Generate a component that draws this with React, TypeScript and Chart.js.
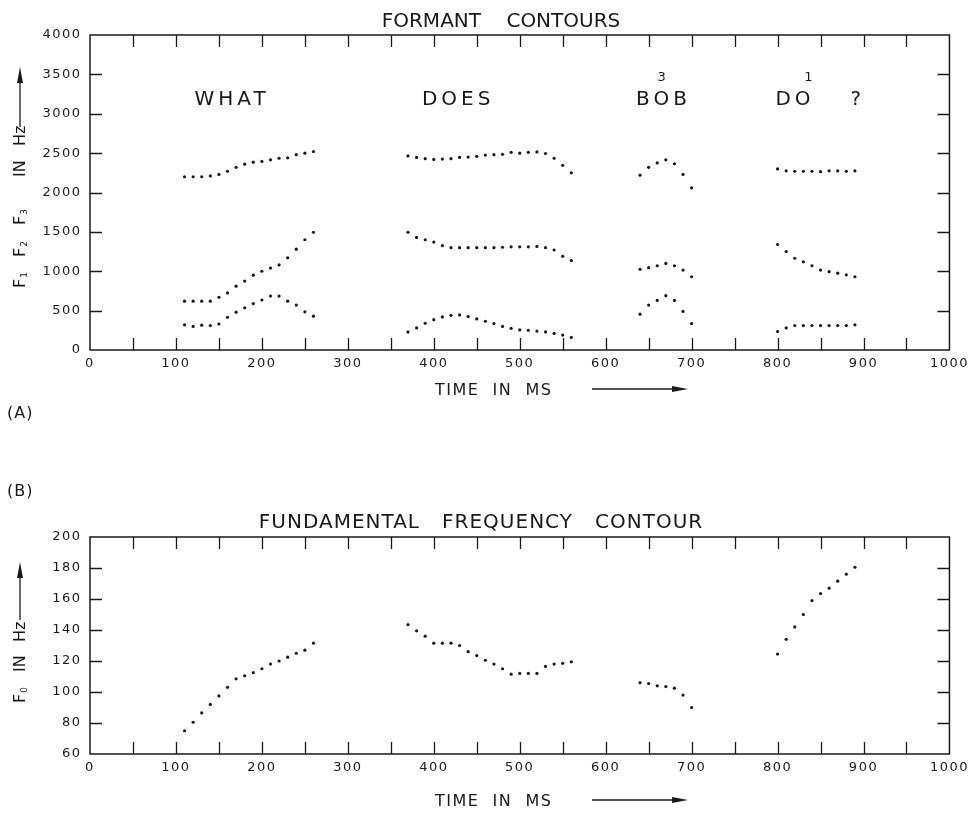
import React, { useEffect, useRef } from 'react';
import { Chart, registerables } from 'chart.js';
Chart.register(...registerables);

const FONT = "'DejaVu Sans', sans-serif";
const INK = '#1a1a1a';

// ---- time axes (ms) ----
const whatTimes = [110, 120, 130, 140, 150, 160, 170, 180, 190, 200, 210, 220, 230, 240, 250, 260];
const doesTimes = [370, 380, 390, 400, 410, 420, 430, 440, 450, 460, 470, 480, 490, 500, 510, 520, 530, 540, 550, 560];
const bobTimes = [640, 650, 660, 670, 680, 690, 700];
const doTimes = [800, 810, 820, 830, 840, 850, 860, 870, 880, 890];

// ---- formants (Hz) ----
const whatF1 = [320, 300, 315, 310, 330, 415, 480, 535, 590, 635, 685, 685, 620, 570, 485, 430];
const whatF2 = [620, 620, 620, 620, 670, 725, 810, 875, 950, 1000, 1040, 1080, 1170, 1280, 1400, 1495];
const whatF3 = [2200, 2200, 2200, 2210, 2230, 2270, 2320, 2360, 2385, 2395, 2415, 2435, 2440, 2480, 2500, 2520];

const doesF1 = [230, 280, 340, 385, 420, 440, 445, 425, 395, 365, 335, 300, 275, 255, 250, 240, 230, 210, 190, 160];
const doesF2 = [1495, 1430, 1400, 1370, 1325, 1300, 1300, 1300, 1300, 1300, 1300, 1305, 1310, 1310, 1310, 1315, 1300, 1270, 1190, 1135];
const doesF3 = [2465, 2445, 2430, 2420, 2425, 2430, 2445, 2450, 2460, 2475, 2480, 2485, 2510, 2500, 2510, 2515, 2495, 2435, 2345, 2250];

const bobF1 = [455, 570, 630, 690, 630, 490, 335];
const bobF2 = [1025, 1045, 1070, 1100, 1070, 1015, 930];
const bobF3 = [2220, 2320, 2375, 2415, 2365, 2230, 2060];

const doF1 = [235, 280, 310, 310, 310, 310, 310, 310, 310, 320];
const doF2 = [1340, 1250, 1165, 1120, 1070, 1015, 995, 975, 955, 930];
const doF3 = [2300, 2275, 2270, 2270, 2270, 2265, 2275, 2275, 2270, 2275];

// ---- fundamental frequency (Hz) ----
const whatF0 = [75, 80.5, 86.5, 92, 97.5, 103, 108.5, 110.5, 112.5, 115, 118, 120, 122.5, 125, 127, 131.5];
const doesF0 = [143.5, 139.5, 136, 131.5, 131.5, 131.5, 130, 126, 123.5, 120.5, 118, 115, 111.5, 112, 112, 112, 116.5, 118, 118.5, 119.5];
const bobF0 = [106, 105.5, 104, 103.5, 102.5, 98, 90];
const doF0 = [124.5, 134, 142, 150, 159, 163.5, 167, 171.5, 176, 180.5];

// ---- ticks ----
const xTickValues = [0, 100, 200, 300, 400, 500, 600, 700, 800, 900, 1000];
const xMarkValues = [0, 50, 100, 150, 200, 250, 300, 350, 400, 450, 500, 550, 600, 650, 700, 750, 800, 850, 900, 950, 1000];
const formantTickValues = [0, 500, 1000, 1500, 2000, 2500, 3000, 3500, 4000];
const f0TickValues = [60, 80, 100, 120, 140, 160, 180, 200];

// ---- texts ----
const formantTitle = 'FORMANT    CONTOURS';
const f0Title = 'FUNDAMENTAL   FREQUENCY   CONTOUR';
const xTitle = 'TIME  IN  MS';
const wordLabels = [
  { text: 'WHAT', t: 163, hz: 3200 },
  { text: 'DOES', t: 426, hz: 3200 },
  { text: 'BOB', t: 665, hz: 3200 },
  { text: 'DO', t: 818, hz: 3200 },
  { text: '?', t: 891, hz: 3200 },
];
const stressMarks = [
  { text: '3', t: 665, hz: 3480 },
  { text: '1', t: 836, hz: 3480 },
];

const zip = (ts: number[], vs: number[]) => ts.map((t, i) => ({ x: t, y: vs[i] }));

type Run = { t: string; s: number; sub?: boolean };
type Group = { bottom: number; runs: Run[] };

function drawVerticalGroup(ctx: CanvasRenderingContext2D, cx: number, g: Group) {
  ctx.save();
  ctx.translate(cx, g.bottom);
  ctx.rotate(-Math.PI / 2);
  let x = 0;
  for (const r of g.runs) {
    ctx.font = `${r.s}px ${FONT}`;
    ctx.textAlign = 'left';
    ctx.textBaseline = 'alphabetic';
    const base = r.sub ? 9 : 6.5;
    ctx.fillText(r.t, x, base);
    x += ctx.measureText(r.t).width + (r.sub ? 0 : 1);
  }
  ctx.restore();
}

function arrowV(ctx: CanvasRenderingContext2D, x: number, y0: number, yTip: number) {
  ctx.beginPath();
  ctx.moveTo(x, y0);
  ctx.lineTo(x, yTip + 12);
  ctx.lineWidth = 1.3;
  ctx.stroke();
  ctx.beginPath();
  ctx.moveTo(x, yTip);
  ctx.lineTo(x - 3, yTip + 16);
  ctx.lineTo(x + 3, yTip + 16);
  ctx.closePath();
  ctx.fill();
}

function arrowH(ctx: CanvasRenderingContext2D, x0: number, xTip: number, y: number) {
  ctx.beginPath();
  ctx.moveTo(x0, y);
  ctx.lineTo(xTip - 12, y);
  ctx.lineWidth = 1.3;
  ctx.stroke();
  ctx.beginPath();
  ctx.moveTo(xTip, y);
  ctx.lineTo(xTip - 16, y - 3);
  ctx.lineTo(xTip - 16, y + 3);
  ctx.closePath();
  ctx.fill();
}

type FrameCfg = {
  yTicks: number[];
  title: string;
  titleX: number;
  titleY: number;
  titleSpacing: string;
  xTitleY: number;
  groups: Group[];
  arrow: [number, number];
  panel: string;
  panelY: number;
  words: boolean;
};

function framePlugin(cfg: FrameCfg) {
  return {
    id: 'frame',
    beforeDraw(chart: any) {
      chart.ctx.letterSpacing = '1.5px';
    },
    afterDraw(chart: any) {
      const ctx: CanvasRenderingContext2D = chart.ctx;
      const { left, right, top, bottom } = chart.chartArea;
      const xs = chart.scales.x;
      const ys = chart.scales.y;
      ctx.save();
      ctx.letterSpacing = '0px';
      ctx.strokeStyle = INK;
      ctx.fillStyle = INK;
      ctx.lineWidth = 1.5;
      ctx.strokeRect(left, top, right - left, bottom - top);
      const TL = 12;
      ctx.beginPath();
      for (const v of xMarkValues) {
        if (v === xs.min || v === xs.max) continue;
        const px = Math.round(xs.getPixelForValue(v)) + 0.5;
        ctx.moveTo(px, bottom);
        ctx.lineTo(px, bottom - TL);
        ctx.moveTo(px, top);
        ctx.lineTo(px, top + TL);
      }
      for (const v of cfg.yTicks) {
        if (v === ys.min || v === ys.max) continue;
        const py = Math.round(ys.getPixelForValue(v)) + 0.5;
        ctx.moveTo(left, py);
        ctx.lineTo(left + TL, py);
        ctx.moveTo(right, py);
        ctx.lineTo(right - TL, py);
      }
      ctx.lineWidth = 1.3;
      ctx.stroke();

      // title
      ctx.font = `20px ${FONT}`;
      ctx.letterSpacing = cfg.titleSpacing;
      ctx.textAlign = 'center';
      ctx.textBaseline = 'alphabetic';
      ctx.fillText(cfg.title, cfg.titleX, cfg.titleY + 7.3);

      // x title
      ctx.font = `16px ${FONT}`;
      ctx.letterSpacing = '1.5px';
      ctx.textAlign = 'left';
      ctx.fillText(xTitle, 435, cfg.xTitleY + 5.8);
      ctx.letterSpacing = '0px';
      arrowH(ctx, 592, 688, cfg.xTitleY);

      // y title
      ctx.letterSpacing = '0px';
      for (const g of cfg.groups) drawVerticalGroup(ctx, 18, g);
      arrowV(ctx, 20, cfg.arrow[0], cfg.arrow[1]);

      // panel label
      ctx.font = `16px ${FONT}`;
      ctx.letterSpacing = '1px';
      ctx.textAlign = 'left';
      ctx.fillText(cfg.panel, 7, cfg.panelY + 6);

      if (cfg.words) {
        ctx.font = `20px ${FONT}`;
        ctx.letterSpacing = '4px';
        ctx.textAlign = 'center';
        for (const w of wordLabels) {
          ctx.fillText(w.text, xs.getPixelForValue(w.t) + 2, ys.getPixelForValue(w.hz) + 7.3);
        }
        ctx.font = `13px ${FONT}`;
        ctx.letterSpacing = '0px';
        for (const m of stressMarks) {
          ctx.fillText(m.text, xs.getPixelForValue(m.t), ys.getPixelForValue(m.hz) + 4.7);
        }
      }
      ctx.restore();
    },
  };
}

function makeOptions(yMin: number, yMax: number, yTicks: number[], padTop: number, xHeight: number) {
  const tickFont = { family: FONT, size: 13 };
  const plain = (v: any) => String(v);
  return {
    responsive: false,
    animation: false as const,
    devicePixelRatio: 1,
    layout: { padding: { left: 0, right: 21, top: padTop, bottom: 0 } },
    plugins: { legend: { display: false }, tooltip: { enabled: false }, title: { display: false } },
    elements: { point: { radius: 1.6, backgroundColor: INK, borderWidth: 0, hoverRadius: 1.6 } },
    scales: {
      x: {
        type: 'linear' as const,
        min: 0,
        max: 1000,
        afterBuildTicks: (s: any) => { s.ticks = xTickValues.map((v) => ({ value: v })); },
        afterFit: (s: any) => { s.height = xHeight; },
        grid: { display: false, drawTicks: false },
        border: { display: false },
        ticks: { font: tickFont, color: INK, padding: 6, maxRotation: 0, autoSkip: false, callback: plain },
      },
      y: {
        type: 'linear' as const,
        min: yMin,
        max: yMax,
        afterBuildTicks: (s: any) => { s.ticks = yTicks.map((v) => ({ value: v })); },
        afterFit: (s: any) => { s.width = 90; },
        grid: { display: false, drawTicks: false },
        border: { display: false },
        ticks: { font: tickFont, color: INK, padding: 8.5, autoSkip: false, callback: plain },
      },
    },
  };
}

const ds = (data: { x: number; y: number }[]) => ({
  data,
  showLine: false,
  pointRadius: 1.6,
  pointBackgroundColor: INK,
  pointBorderWidth: 0,
});

export default function App() {
  const topRef = useRef<HTMLCanvasElement>(null);
  const botRef = useRef<HTMLCanvasElement>(null);

  useEffect(() => {
    const top = new Chart(topRef.current!, {
      type: 'scatter',
      data: {
        datasets: [
          ds(zip(whatTimes, whatF1)), ds(zip(whatTimes, whatF2)), ds(zip(whatTimes, whatF3)),
          ds(zip(doesTimes, doesF1)), ds(zip(doesTimes, doesF2)), ds(zip(doesTimes, doesF3)),
          ds(zip(bobTimes, bobF1)), ds(zip(bobTimes, bobF2)), ds(zip(bobTimes, bobF3)),
          ds(zip(doTimes, doF1)), ds(zip(doTimes, doF2)), ds(zip(doTimes, doF3)),
        ],
      },
      options: makeOptions(0, 4000, formantTickValues, 35, 100) as any,
      plugins: [
        framePlugin({
          yTicks: formantTickValues,
          title: formantTitle,
          titleX: 501,
          titleY: 20,
          titleSpacing: '0px',
          xTitleY: 389,
          groups: [
            { bottom: 288, runs: [{ t: 'F', s: 16 }, { t: '1', s: 9, sub: true }] },
            { bottom: 257, runs: [{ t: 'F', s: 16 }, { t: '2', s: 9, sub: true }] },
            { bottom: 225, runs: [{ t: 'F', s: 16 }, { t: '3', s: 9, sub: true }] },
            { bottom: 177, runs: [{ t: 'IN', s: 16 }] },
            { bottom: 146, runs: [{ t: 'Hz', s: 16 }] },
          ],
          arrow: [127, 67],
          panel: '(A)',
          panelY: 412,
          words: true,
        }) as any,
      ],
    });
    const bot = new Chart(botRef.current!, {
      type: 'scatter',
      data: {
        datasets: [
          ds(zip(whatTimes, whatF0)), ds(zip(doesTimes, doesF0)),
          ds(zip(bobTimes, bobF0)), ds(zip(doTimes, doF0)),
        ],
      },
      options: makeOptions(60, 200, f0TickValues, 87, 59) as any,
      plugins: [
        framePlugin({
          yTicks: f0TickValues,
          title: f0Title,
          titleX: 481,
          titleY: 70.5,
          titleSpacing: '1px',
          xTitleY: 350,
          groups: [
            { bottom: 253, runs: [{ t: 'F', s: 16 }, { t: '0', s: 9, sub: true }] },
            { bottom: 222, runs: [{ t: 'IN', s: 16 }] },
            { bottom: 192, runs: [{ t: 'Hz', s: 16 }] },
          ],
          arrow: [170, 112],
          panel: '(B)',
          panelY: 40,
          words: false,
        }) as any,
      ],
    });
    return () => { top.destroy(); bot.destroy(); };
  }, []);

  return (
    <div style={{ position: 'absolute', left: 0, top: 0, width: 972, height: 813, background: '#fff' }}>
      <canvas ref={topRef} width={972} height={450} style={{ position: 'absolute', left: 0, top: 0, width: 972, height: 450 }} />
      <canvas ref={botRef} width={972} height={363} style={{ position: 'absolute', left: 0, top: 450, width: 972, height: 363 }} />
    </div>
  );
}
